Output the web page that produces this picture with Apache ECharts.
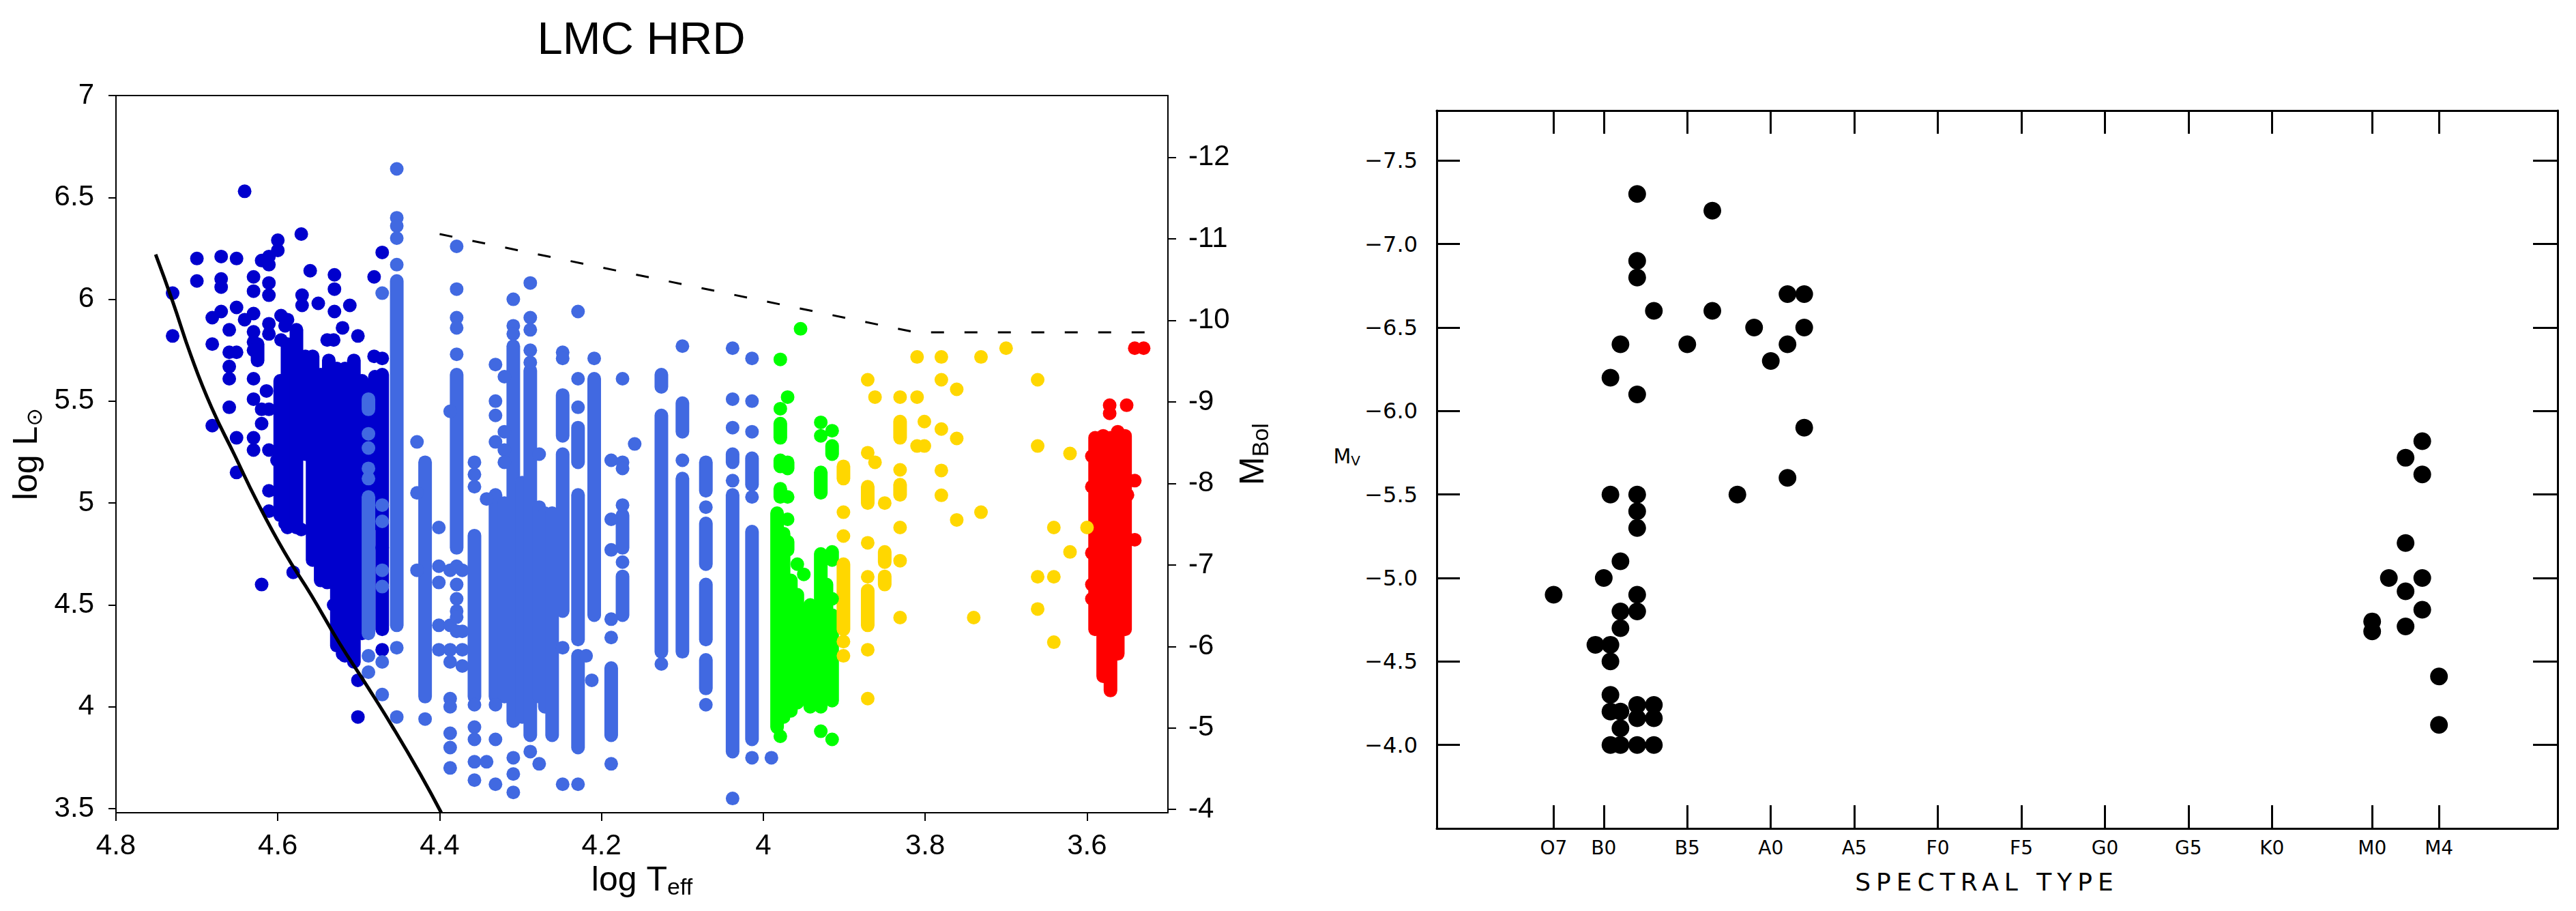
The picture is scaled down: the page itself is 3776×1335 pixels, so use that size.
<!DOCTYPE html>
<html>
<head>
<meta charset="utf-8">
<script src="https://cdn.jsdelivr.net/npm/echarts@6/dist/echarts.min.js"></script>
<style>
  html, body { margin: 0; padding: 0; background: #fff; }
  #hrd { position: absolute; left: 0; top: 0; width: 1880px; height: 1335px; }
  #spec { position: absolute; left: 1880px; top: 0; width: 1896px; height: 1335px; }
</style>
</head>
<body>
<div id="hrd"></div>
<div id="spec"></div>
<script>
// ---- LMC HRD (left) ----
// single stars [logTeff, logL]; runs are overlapping stacks [logTeff, logL low, logL high]
const oDots = [
  [4.641,6.53],[4.571,6.32],[4.600,6.29],[4.600,6.24],[4.700,6.20],[4.670,6.21],[4.651,6.20],
  [4.620,6.19],[4.611,6.21],[4.611,6.17],[4.471,6.23],[4.700,6.09],[4.670,6.10],[4.670,6.06],
  [4.730,6.03],[4.630,6.11],[4.630,6.04],[4.611,6.08],[4.611,6.02],[4.560,6.14],[4.530,6.12],
  [4.530,6.05],[4.481,6.11],[4.570,6.02],[4.570,5.97],[4.550,5.98],[4.511,5.97],[4.530,5.94],
  [4.651,5.96],[4.670,5.94],[4.681,5.91],[4.641,5.90],[4.630,5.93],[4.630,5.84],[4.630,5.79],
  [4.660,5.85],[4.730,5.82],[4.681,5.78],[4.611,5.88],[4.611,5.83],[4.588,5.90],[4.591,5.87],
  [4.520,5.86],[4.539,5.80],[4.531,5.80],[4.501,5.82],[4.660,5.74],[4.651,5.74],[4.630,5.75],
  [4.660,5.67],[4.660,5.61],[4.471,5.71],[4.481,5.72],[4.630,5.61],[4.630,5.51],[4.660,5.47],
  [4.681,5.38],[4.651,5.32],[4.630,5.32],[4.630,5.26],[4.620,5.46],[4.620,5.39],[4.611,5.46],
  [4.611,5.26],[4.601,5.21],[4.651,5.15],[4.611,5.06],[4.611,4.96],[4.591,4.90],[4.571,4.87],
  [4.620,4.60],[4.581,4.66],[4.539,4.61],[4.531,4.50],[4.520,4.26],[4.501,4.13],[4.501,3.95],
  [4.471,4.28],[4.471,4.78],[4.596,5.80],[4.596,5.92],[4.614,5.55]
];
const oRuns = [
  [4.597,4.94,5.60],[4.588,4.88,5.78],[4.577,4.88,5.85],[4.566,5.24,5.72],[4.557,4.72,5.72],
  [4.547,4.62,5.63],[4.537,4.62,5.70],[4.527,4.30,5.66],[4.517,4.25,5.66],[4.506,4.22,5.70],
  [4.496,4.36,5.60],[4.480,4.90,5.62],[4.471,4.38,5.63],[4.625,5.70,5.78]
];
const bDots = [
  [4.488,5.34],[4.488,5.27],[4.488,5.17],[4.488,5.12],[4.488,4.25],[4.488,4.17],
  [4.471,6.03],[4.471,4.99],[4.471,4.91],[4.471,4.67],[4.471,4.59],[4.471,4.22],[4.471,4.06],
  [4.453,6.64],[4.453,6.40],[4.453,6.36],[4.453,6.30],[4.453,6.17],[4.453,4.29],[4.453,3.95],
  [4.428,5.30],[4.428,5.05],[4.428,4.67],[4.418,3.94],
  [4.401,4.88],[4.401,4.69],[4.401,4.61],[4.401,4.40],[4.401,4.28],
  [4.387,5.45],[4.387,4.67],[4.387,4.40],[4.387,4.28],[4.387,4.22],[4.387,4.04],[4.387,4.00],
  [4.387,3.87],[4.387,3.80],[4.387,3.70],
  [4.379,6.26],[4.379,6.05],[4.379,5.91],[4.379,5.86],[4.379,5.73],[4.379,4.69],[4.379,4.60],
  [4.379,4.53],[4.379,4.47],[4.379,4.44],[4.379,4.37],
  [4.372,4.67],[4.372,4.37],[4.372,4.28],[4.372,4.20],
  [4.357,5.20],[4.357,5.14],[4.357,5.08],[4.357,4.01],[4.357,3.90],[4.357,3.84],[4.357,3.73],[4.357,3.64],
  [4.342,5.02],[4.342,3.73],
  [4.331,5.68],[4.331,5.50],[4.331,5.43],[4.331,5.30],[4.331,4.01],[4.331,3.84],[4.331,3.62],
  [4.320,5.62],[4.320,5.35],[4.320,5.26],[4.320,5.20],
  [4.309,6.00],[4.309,5.87],[4.309,5.83],[4.309,3.75],[4.309,3.67],[4.309,3.58],
  [4.288,6.08],[4.288,5.91],[4.288,5.85],[4.288,5.75],[4.288,5.69],[4.288,3.78],
  [4.277,5.24],[4.277,3.72],
  [4.248,5.74],[4.248,5.71],[4.248,4.29],[4.248,3.62],
  [4.229,5.94],[4.229,5.61],[4.229,5.47],[4.229,3.62],
  [4.219,4.25],[4.212,4.13],[4.209,5.71],
  [4.188,5.21],[4.188,4.92],[4.188,4.77],[4.188,4.43],[4.188,4.34],[4.188,3.72],
  [4.174,5.61],[4.174,5.20],[4.174,5.17],[4.174,4.99],[4.174,4.71],
  [4.159,5.29],[4.126,4.21],[4.100,5.77],[4.100,5.21],[4.071,4.98],[4.071,4.01],
  [4.038,5.76],[4.038,5.51],[4.038,5.37],[4.038,5.11],[4.038,3.55],
  [4.014,5.71],[4.014,5.50],[4.014,5.35],[4.014,5.03],[4.014,3.75],[3.990,3.75]
];
const bRuns = [
  [4.488,5.46,5.51],[4.488,4.36,5.03],[4.453,4.40,6.09],[4.418,4.05,5.20],[4.379,4.78,5.63],
  [4.357,4.05,4.84],[4.331,4.05,5.04],[4.320,4.05,5.00],[4.309,3.93,5.77],[4.298,3.95,5.10],
  [4.288,3.86,5.65],[4.277,4.05,4.98],[4.270,4.00,4.95],[4.261,3.86,4.95],
  [4.248,5.33,5.53],[4.248,4.47,5.24],[4.229,5.20,5.37],[4.229,4.33,5.04],[4.229,3.80,4.25],
  [4.209,4.45,5.61],[4.188,3.86,4.19],[4.174,4.78,4.94],[4.174,4.45,4.64],
  [4.126,5.57,5.63],[4.126,4.27,5.43],[4.100,5.35,5.49],[4.100,4.27,5.12],
  [4.071,5.06,5.20],[4.071,4.70,4.90],[4.071,4.33,4.60],[4.071,4.09,4.23],
  [4.038,5.20,5.24],[4.038,3.78,5.04],[4.014,5.09,5.22],[4.014,3.84,4.86]
];
const aDots = [
  [3.954,5.855],[3.979,5.705],[3.979,5.463],[3.970,5.52],[3.970,5.03],[3.970,4.92],[3.979,3.855],
  [3.929,5.396],[3.929,5.33],[3.929,3.88],[3.915,5.355],[3.915,4.53],[3.915,3.84],[3.958,4.70],[3.950,4.65]
];
const aRuns = [
  [3.979,5.32,5.39],[3.979,5.18,5.21],[3.979,5.03,5.07],[3.970,5.17,5.20],[3.983,3.90,4.95],
  [3.975,3.95,4.85],[3.970,4.77,4.81],[3.966,3.98,4.62],[3.958,4.02,4.55],[3.950,4.05,4.45],
  [3.942,4.00,4.50],[3.935,4.05,4.45],[3.929,5.05,5.15],[3.929,4.00,4.75],[3.922,4.10,4.60],
  [3.915,5.24,5.28],[3.915,4.72,4.76],[3.915,4.03,4.45]
];
const fDots = [
  [3.901,4.955],[3.901,4.838],[3.901,4.32],[3.901,4.25],[3.871,5.605],[3.871,5.247],[3.871,4.805],
  [3.871,4.638],[3.871,4.28],[3.871,4.04],[3.862,5.52],[3.862,5.20],[3.850,5.0],[3.831,5.52],
  [3.831,5.163],[3.831,4.88],[3.831,4.717],[3.831,4.438],[3.810,5.717],[3.810,5.52],[3.810,5.28],
  [3.801,5.40],[3.801,5.28],[3.780,5.717],[3.780,5.605],[3.780,5.363],[3.780,5.16],[3.780,5.038],
  [3.761,5.558],[3.761,5.317],[3.761,4.917],[3.740,4.438],[3.731,5.717],[3.731,4.955],[3.700,5.76],
  [3.661,5.605],[3.661,5.28],[3.661,4.638],[3.661,4.48],[3.641,4.88],[3.641,4.638],[3.641,4.317],
  [3.621,5.243],[3.621,4.76],[3.600,4.88]
];
const fRuns = [
  [3.901,5.12,5.18],[3.901,4.38,4.70],[3.871,5.0,5.08],[3.871,4.40,4.57],[3.850,4.71,4.76],
  [3.850,4.60,4.64],[3.831,5.32,5.40],[3.831,5.04,5.09]
];
const mDots = [
  [3.541,5.76],[3.530,5.76],[3.572,5.48],[3.572,5.44],[3.551,5.48],[3.594,5.23],[3.594,5.08],
  [3.594,4.755],[3.594,4.60],[3.594,4.53],[3.541,5.11],[3.541,4.82],[3.550,5.04],[3.555,4.60]
];
const mRuns = [
  [3.590,4.38,5.32],[3.580,4.15,5.33],[3.571,4.08,5.32],[3.562,4.26,5.35],[3.553,4.38,5.33]
];
const edgeLine = [
  [4.751,6.22],[4.730,5.99],[4.707,5.72],[4.682,5.47],[4.654,5.24],[4.626,5.01],[4.592,4.76],
  [4.559,4.55],[4.525,4.32],[4.491,4.11],[4.458,3.90],[4.424,3.67],[4.398,3.48]
];
const limitLine = [[4.40,6.32],[3.812,5.838],[3.524,5.838]];
const tempTicks = [3.6, 3.8, 4, 4.2, 4.4, 4.6, 4.8];
const lumTicks = [3.5, 4, 4.5, 5, 5.5, 6, 6.5, 7];
const bolTicks = [-12, -11, -10, -9, -8, -7, -6, -5, -4];

// ---- spectral type vs Mv (right) ----
const spNames = ['O7', 'B0', 'B5', 'A0', 'A5', 'F0', 'F5', 'G0', 'G5', 'K0', 'M0', 'M4'];
const spPos = [7, 10, 15, 20, 25, 30, 35, 40, 45, 50, 56, 60];
const mvTicks = [-7.5, -7, -6.5, -6, -5.5, -5, -4.5, -4];
const superGiants = [
  [12,-7.3],[16.5,-7.2],[12,-6.9],[12,-6.8],[13,-6.6],[16.5,-6.6],[21,-6.7],[22,-6.7],[19,-6.5],
  [22,-6.5],[11,-6.4],[15,-6.4],[21,-6.4],[20,-6.3],[10.4,-6.2],[12,-6.1],[22,-5.9],[21,-5.6],
  [18,-5.5],[10.4,-5.5],[12,-5.5],[12,-5.4],[12,-5.3],[11,-5.1],[10,-5.0],[7,-4.9],[12,-4.9],
  [12,-4.8],[11,-4.8],[11,-4.7],[9.5,-4.6],[10.4,-4.6],[10.4,-4.5],[10.4,-4.3],[10.4,-4.2],
  [11,-4.2],[11,-4.1],[10.4,-4.0],[11,-4.0],[12,-4.24],[12,-4.16],[13,-4.24],[13,-4.16],
  [12,-4.0],[13,-4.0],
  [59,-5.82],[58,-5.72],[59,-5.62],[58,-5.21],[57,-5.0],[59,-5.0],[58,-4.92],[59,-4.81],
  [56,-4.74],[56,-4.68],[58,-4.71],[60,-4.41],[60,-4.12]
];

const DOT = 20;
const SANS = "'Liberation Sans', Arial, sans-serif";

function dotSeries(data, color) {
  return {
    type: 'scatter', data: data, symbol: 'circle', symbolSize: DOT,
    itemStyle: { color: color, opacity: 1 }, silent: true, animation: false
  };
}

function runSeries(data, color) {
  return {
    type: 'custom', data: data, silent: true, animation: false,
    encode: { x: 0, y: [1, 2] },
    renderItem: function (params, api) {
      var p1 = api.coord([api.value(0), api.value(1)]);
      var p2 = api.coord([api.value(0), api.value(2)]);
      return {
        type: 'line',
        shape: { x1: p1[0], y1: p1[1], x2: p2[0], y2: p2[1] },
        style: { stroke: color, lineWidth: DOT, lineCap: 'round' }
      };
    }
  };
}

const hrd = echarts.init(document.getElementById('hrd'));
const thin = { color: '#000', width: 2 };
hrd.setOption({
  backgroundColor: '#fff',
  animation: false,
  title: {
    text: 'LMC HRD', left: 'center', top: 22,
    textStyle: { fontFamily: SANS, fontSize: 67, fontWeight: 'normal', color: '#000' }
  },
  grid: { left: 170, right: 168, top: 140, bottom: 144 },
  xAxis: [{
    type: 'value', min: 3.5, max: 4.8, inverse: true,
    name: '{m|log T}{s|eff}', nameLocation: 'middle', nameGap: 62,
    nameTextStyle: {
      rich: {
        m: { fontFamily: SANS, fontSize: 50, color: '#000', lineHeight: 56 },
        s: { fontFamily: SANS, fontSize: 34, color: '#000', lineHeight: 30, verticalAlign: 'bottom' }
      }
    },
    axisLine: { onZero: false, lineStyle: thin },
    axisTick: { customValues: tempTicks, length: 12, lineStyle: thin },
    axisLabel: {
      customValues: tempTicks, margin: 28, fontFamily: SANS, fontSize: 42, color: '#000',
      formatter: v => String(+v.toFixed(1))
    },
    splitLine: { show: false }
  }, {
    type: 'value', min: 3.5, max: 4.8, inverse: true, position: 'top',
    axisLine: { onZero: false, lineStyle: thin },
    axisTick: { show: false }, axisLabel: { show: false }, splitLine: { show: false }
  }],
  yAxis: [{
    type: 'value', min: 3.48, max: 7,
    name: '{m|log L}{s|⊙}', nameLocation: 'middle', nameGap: 84, nameRotate: 90,
    nameTextStyle: {
      rich: {
        m: { fontFamily: SANS, fontSize: 50, color: '#000', lineHeight: 56 },
        s: { fontFamily: "'DejaVu Sans', sans-serif", fontSize: 32, color: '#000', lineHeight: 30, verticalAlign: 'bottom' }
      }
    },
    axisLine: { onZero: false, lineStyle: thin },
    axisTick: { customValues: lumTicks, length: 11, lineStyle: thin },
    axisLabel: {
      customValues: lumTicks, margin: 32, fontFamily: SANS, fontSize: 42, color: '#000',
      formatter: v => String(+v.toFixed(1))
    },
    splitLine: { show: false }
  }, {
    type: 'value', min: -12.76, max: -3.96, inverse: true, position: 'right',
    name: '{m|M}{s|Bol}', nameLocation: 'middle', nameGap: 92, nameRotate: 90,
    nameTextStyle: {
      rich: {
        m: { fontFamily: SANS, fontSize: 50, color: '#000', lineHeight: 56 },
        s: { fontFamily: SANS, fontSize: 34, color: '#000', lineHeight: 30, verticalAlign: 'bottom' }
      }
    },
    axisLine: { onZero: false, lineStyle: thin },
    axisTick: { customValues: bolTicks, length: 12, lineStyle: thin },
    axisLabel: {
      customValues: bolTicks, margin: 30, fontFamily: SANS, fontSize: 42, color: '#000',
      formatter: v => String(v)
    },
    splitLine: { show: false }
  }],
  series: [
    {
      type: 'line', data: edgeLine, smooth: true, symbol: 'none', silent: true,
      lineStyle: { color: '#000', width: 5 }
    },
    {
      type: 'line', data: limitLine, symbol: 'none', silent: true,
      lineStyle: { color: '#000', width: 3, type: [19, 30] }
    },
    runSeries(oRuns, '#0000CD'), dotSeries(oDots, '#0000CD'),
    runSeries(bRuns, '#4169E1'), dotSeries(bDots, '#4169E1'),
    runSeries(aRuns, '#00FF00'), dotSeries(aDots, '#00FF00'),
    runSeries(fRuns, '#FFD700'), dotSeries(fDots, '#FFD700'),
    runSeries(mRuns, '#FF0000'), dotSeries(mDots, '#FF0000')
  ]
});

// ---- right panel ----
const TYPE = "'DejaVu Sans', sans-serif";
const spec = echarts.init(document.getElementById('spec'), null, { renderer: 'svg' });
const frame = { color: '#000', width: 3 };
spec.setOption({
  backgroundColor: '#fff',
  animation: false,
  grid: { left: 226, right: 27, top: 162, bottom: 121 },
  xAxis: [{
    type: 'value', min: 0, max: 67.1,
    name: 'SPECTRAL TYPE', nameLocation: 'middle', nameGap: 60,
    nameTextStyle: { fontFamily: TYPE, fontSize: 36, color: '#000', padding: [0, 30, 0, 0] },
    axisLine: { onZero: false, lineStyle: frame },
    axisTick: { customValues: spPos, inside: true, length: 34, lineStyle: frame },
    axisLabel: {
      customValues: spPos, margin: 14, fontFamily: TYPE, fontSize: 28, color: '#000',
      formatter: v => spNames[spPos.indexOf(v)]
    },
    splitLine: { show: false }
  }, {
    type: 'value', min: 0, max: 67.1, position: 'top',
    axisLine: { onZero: false, lineStyle: frame },
    axisTick: { customValues: spPos, inside: true, length: 34, lineStyle: frame },
    axisLabel: { show: false }, splitLine: { show: false }
  }],
  yAxis: [{
    type: 'value', min: -7.8, max: -3.5, inverse: true,
    name: '{m|M}{s|V}', nameLocation: 'middle', nameGap: 112, nameRotate: 0,
    nameTextStyle: {
      padding: [0, 0, 40, 0],
      rich: {
        m: { fontFamily: TYPE, fontSize: 30, color: '#000', lineHeight: 34 },
        s: { fontFamily: TYPE, fontSize: 20, color: '#000', lineHeight: 20, verticalAlign: 'bottom' }
      }
    },
    axisLine: { onZero: false, lineStyle: frame },
    axisTick: { customValues: mvTicks, inside: true, length: 34, lineStyle: frame },
    axisLabel: {
      customValues: mvTicks, margin: 28, fontFamily: TYPE, fontSize: 32, color: '#000',
      formatter: v => '\u2212' + Math.abs(v).toFixed(1)
    },
    splitLine: { show: false }
  }, {
    type: 'value', min: -7.8, max: -3.5, inverse: true, position: 'right',
    axisLine: { onZero: false, lineStyle: frame },
    axisTick: { customValues: mvTicks, inside: true, length: 36, lineStyle: frame },
    axisLabel: { show: false }, splitLine: { show: false }
  }],
  series: [{
    type: 'scatter', data: superGiants, symbol: 'circle', symbolSize: 26,
    itemStyle: { color: '#000', opacity: 1 }, silent: true, animation: false
  }]
});

// widely spaced lettering of the scanned axis title
document.querySelectorAll('#spec text').forEach(function (t) {
  if (t.textContent === 'SPECTRAL TYPE') t.setAttribute('letter-spacing', '8');
});
</script>
</body>
</html>
